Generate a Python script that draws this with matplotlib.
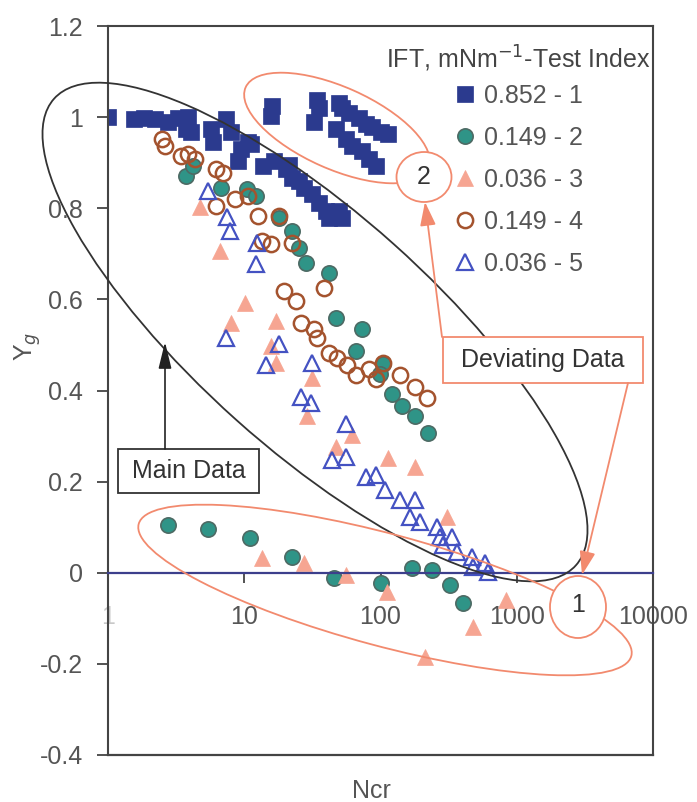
import numpy as np
import matplotlib
matplotlib.use('Agg')
import matplotlib.pyplot as plt
import matplotlib.transforms as mtransforms
from matplotlib.patches import Ellipse, Rectangle
from matplotlib.ticker import FixedLocator, FuncFormatter, NullLocator

plt.rcParams['font.family'] = ['Liberation Sans', 'DejaVu Sans']

# ---------------- data ----------------
legend_title = 'IFT, mNm$^{\\mathsf{-1}}$-Test Index'
labels = ['0.852 - 1', '0.149 - 2', '0.036 - 3', '0.149 - 4', '0.036 - 5']

# Test 1 (IFT 0.852) - main trend followed by deviating group "2"
s1_ncr = [1.0, 1.56, 1.85, 2.23, 2.74, 3.24, 3.85, 3.72, 4.05, 5.70, 5.89, 7.36, 8.01,
          9.50, 10.7, 9.03, 11.3, 13.8, 16.4, 20.1, 21.2, 22.3, 25.1, 27.4, 31.4, 35.3,
          39.8, 41.9, 49.7, 52.3,
          16.1, 15.6, 34.1, 32.4, 35.3, 49.7, 52.3, 58.9, 69.9, 78.7, 87.3, 101.7, 112.6,
          47.2, 56.0, 62.0, 73.6, 82.9, 93.4]
s1_yg = [1.0, 0.995, 0.997, 0.995, 0.990, 0.997, 1.001, 0.975, 0.968, 0.975, 0.946, 0.995, 0.968,
         0.931, 0.946, 0.903, 0.942, 0.892, 0.903, 0.887, 0.896, 0.866, 0.859, 0.844, 0.831, 0.811,
         0.793, 0.778, 0.793, 0.778,
         1.025, 1.003, 1.038, 0.990, 1.019, 1.030, 1.019, 1.008, 0.997, 0.986, 0.979, 0.968, 0.962,
         0.973, 0.953, 0.936, 0.925, 0.909, 0.892]

# Test 2 (IFT 0.149) - main trend followed by deviating group "1"
s2_ncr = [3.72, 4.19, 6.76, 10.4, 12.3, 17.9, 22.3, 25.1, 28.3, 41.9, 47.2, 73.6, 66.4,
          103.5, 98.4, 120.6, 143, 179, 223,
          2.74, 5.41, 11.1, 22.3, 45.6, 101.7, 170, 239, 324, 405]
s2_yg = [0.870, 0.892, 0.844, 0.842, 0.826, 0.778, 0.750, 0.713, 0.680, 0.658, 0.560, 0.536, 0.487,
         0.459, 0.437, 0.393, 0.367, 0.345, 0.306,
         0.105, 0.096, 0.077, 0.035, -0.011, -0.022, 0.011, 0.007, -0.026, -0.066]

# Test 3 (IFT 0.036)
s3_ncr = [4.72, 6.64, 8.01, 10.2, 17.0, 15.6, 17.0, 31.4, 28.8, 62.0, 47.2, 112.6, 179, 308,
          13.4, 27.4, 56.0, 110.7, 212, 480, 829]
s3_yg = [0.802, 0.706, 0.549, 0.592, 0.553, 0.498, 0.461, 0.428, 0.345, 0.302, 0.275, 0.251, 0.232, 0.122,
         0.033, 0.022, -0.004, -0.042, -0.184, -0.120, -0.059]

# Test 4 (IFT 0.149)
s4_ncr = [2.51, 2.60, 3.41, 3.85, 4.34, 6.21, 6.99, 6.21, 8.58, 10.7, 12.7, 13.4, 15.8, 17.9,
          22.3, 19.5, 23.9, 26.0, 32.4, 34.1, 38.5, 41.9, 48.0, 57.0, 66.4, 82.9, 103.5, 93.4,
          138, 179, 219]
s4_yg = [0.953, 0.936, 0.914, 0.918, 0.907, 0.887, 0.877, 0.804, 0.820, 0.826, 0.783, 0.728, 0.721, 0.783,
         0.723, 0.619, 0.597, 0.549, 0.536, 0.516, 0.625, 0.483, 0.472, 0.455, 0.433, 0.448, 0.461, 0.426,
         0.433, 0.407, 0.383]

# Test 5 (IFT 0.036)
s5_ncr = [5.41, 7.48, 7.81, 12.5, 12.3, 7.36, 17.9, 14.4, 31.4, 26.0, 30.8, 56.0, 44.1, 56.0,
          78.7, 93.4, 107, 138, 179, 164, 194, 260, 273, 336, 288, 365, 472, 589, 480, 610]
s5_yg = [0.837, 0.780, 0.750, 0.723, 0.678, 0.516, 0.503, 0.455, 0.461, 0.385, 0.372, 0.326, 0.247, 0.254,
         0.210, 0.214, 0.181, 0.160, 0.160, 0.122, 0.111, 0.101, 0.079, 0.079, 0.061, 0.046, 0.035, 0.022,
         0.013, 0.002]

x_ticks = [1, 10, 100, 1000, 10000]
x_tick_labels = ['1', '10', '100', '1000', '10000']
y_ticks = [-0.4, -0.2, 0, 0.2, 0.4, 0.6, 0.8, 1.0, 1.2]
y_tick_labels = ['-0.4', '-0.2', '0', '0.2', '0.4', '0.6', '0.8', '1', '1.2']

# ---------------- figure ----------------
W, H = 697, 802
fig = plt.figure(figsize=(W / 100, H / 100), dpi=100)
axL, axB, axW, axH = 108, 47, 545, 729
ax = fig.add_axes([axL / W, axB / H, axW / W, axH / H])
fig.patch.set_facecolor('white')

navy = '#2b3a8e'
teal = '#2f9487'
teal_edge = '#4d6a64'
pink = '#f6a592'
brown = '#a4532e'
blue = '#4452c2'
salmon = '#f28a6e'
txt = '#555555'

ax.plot(s1_ncr, s1_yg, ls='none', marker='s', ms=12, mfc=navy, mec=navy, mew=0.5,
        label=labels[0], zorder=2)
ax.plot(s2_ncr, s2_yg, ls='none', marker='o', ms=11, mfc=teal, mec=teal_edge, mew=1.2,
        label=labels[1], zorder=2)
ax.plot(s3_ncr, s3_yg, ls='none', marker='^', ms=11, mfc=pink, mec=pink, mew=0.5,
        label=labels[2], zorder=2)
ax.plot(s4_ncr, s4_yg, ls='none', marker='o', ms=11, mfc='none', mec=brown, mew=1.8,
        label=labels[3], zorder=2)
ax.plot(s5_ncr, s5_yg, ls='none', marker='^', ms=11, mfc='none', mec=blue, mew=1.6,
        label=labels[4], zorder=2)

ax.set_xscale('log')
ax.set_xlim(1, 10000)
ax.set_ylim(-0.4, 1.2)

ax.xaxis.set_major_locator(FixedLocator(x_ticks))
ax.xaxis.set_minor_locator(NullLocator())
ax.xaxis.set_major_formatter(FuncFormatter(lambda v, p: x_tick_labels[x_ticks.index(int(round(v)))] if int(round(v)) in x_ticks else ''))
ax.yaxis.set_major_locator(FixedLocator(y_ticks))
ax.yaxis.set_major_formatter(FuncFormatter(lambda v, p: y_tick_labels[int(round((v + 0.4) / 0.2))]))

ax.spines['bottom'].set_position(('data', 0))
ax.spines['bottom'].set_color('#3c3f8c')
ax.spines['bottom'].set_linewidth(1.6)
for s in ['left', 'top', 'right']:
    ax.spines[s].set_color('#444444')
    ax.spines[s].set_linewidth(1.5)
ax.plot([0, 1], [0, 0], transform=ax.transAxes, color='#444444', lw=1.6, clip_on=False, zorder=5)

ax.tick_params(axis='y', direction='out', length=8, width=1.3, colors='#444444',
               labelcolor=txt, labelsize=18, pad=10)
ax.tick_params(axis='x', direction='out', length=7, width=1.3, colors='#444444',
               labelcolor=txt, labelsize=18, pad=16)
ax.get_xticklabels()[0].set_color('#c8c8c8')

ax.set_xlabel('Ncr', fontsize=18, color=txt)
ax.set_ylabel('Y$_g$', fontsize=18, color=txt)
ax.xaxis.set_label_coords(0.484, -0.033)
ax.yaxis.set_label_coords(-0.12, 0.56)

leg = ax.legend(title=legend_title, loc='upper right', bbox_to_anchor=(0.996, 0.975),
                frameon=False, fontsize=18, title_fontsize=18, numpoints=1,
                handlelength=0.9, handletextpad=0.3, labelspacing=0.72,
                borderpad=0, borderaxespad=0)
leg._legend_box.sep = 7
for t in leg.get_texts():
    t.set_color(txt)
leg.get_title().set_color('#444444')
for h in leg.legend_handles:
    h.set_markersize(11)

# ---------------- annotations (axes-pixel coordinates) ----------------
pix = mtransforms.Affine2D().scale(1 / axW, 1 / axH) + ax.transAxes

ax.add_patch(Ellipse((207, 423), 700, 236, angle=-41.8, transform=pix, fill=False,
                     ec='#333333', lw=1.3, zorder=3, clip_on=False))
ax.add_patch(Ellipse((229, 627), 200, 82, angle=-24, transform=pix, fill=False,
                     ec=salmon, lw=1.3, zorder=3, clip_on=False))
ax.add_patch(Ellipse((277, 165), 510, 112, angle=-15, transform=pix, fill=False,
                     ec=salmon, lw=1.3, zorder=3, clip_on=False))

ax.add_patch(Ellipse((316, 578), 55, 50, transform=pix, fc='white', ec=salmon, lw=1.3, zorder=4))
ax.text(316, 578, '2', transform=pix, ha='center', va='center', fontsize=18, color='#333333', zorder=5)
ax.add_patch(Ellipse((470, 148), 56, 62, transform=pix, fc='white', ec=salmon, lw=1.3, zorder=4))
ax.text(470, 150, '1', transform=pix, ha='center', va='center', fontsize=18, color='#333333', zorder=5)

ax.add_patch(Rectangle((10, 262), 141, 44, transform=pix, fc='white', ec='#333333', lw=1.3, zorder=4))
ax.text(80.5, 284, 'Main Data', transform=pix, ha='center', va='center', fontsize=18,
        color='#333333', zorder=5)
ax.annotate('', xy=(57, 413), xytext=(57, 306), xycoords=pix, textcoords=pix,
            arrowprops=dict(arrowstyle='-|>,head_length=0.9,head_width=0.22', color='#222222',
                            lw=1.2, shrinkA=0, shrinkB=0, mutation_scale=18), zorder=5)

ax.add_patch(Rectangle((335, 372), 200, 46, transform=pix, fc='white', ec=salmon, lw=1.3, zorder=4))
ax.text(435, 395, 'Deviating Data', transform=pix, ha='center', va='center', fontsize=18,
        color='#333333', zorder=5)
ax.annotate('', xy=(317, 553), xytext=(334, 418), xycoords=pix, textcoords=pix,
            arrowprops=dict(arrowstyle='-|>,head_length=0.9,head_width=0.3', color=salmon,
                            lw=1.3, shrinkA=0, shrinkB=0, mutation_scale=16), zorder=5)
ax.annotate('', xy=(474, 180), xytext=(520, 372), xycoords=pix, textcoords=pix,
            arrowprops=dict(arrowstyle='-|>,head_length=0.9,head_width=0.3', color=salmon,
                            lw=1.3, shrinkA=0, shrinkB=0, mutation_scale=16), zorder=5)

fig.savefig('out.png', dpi=100)
